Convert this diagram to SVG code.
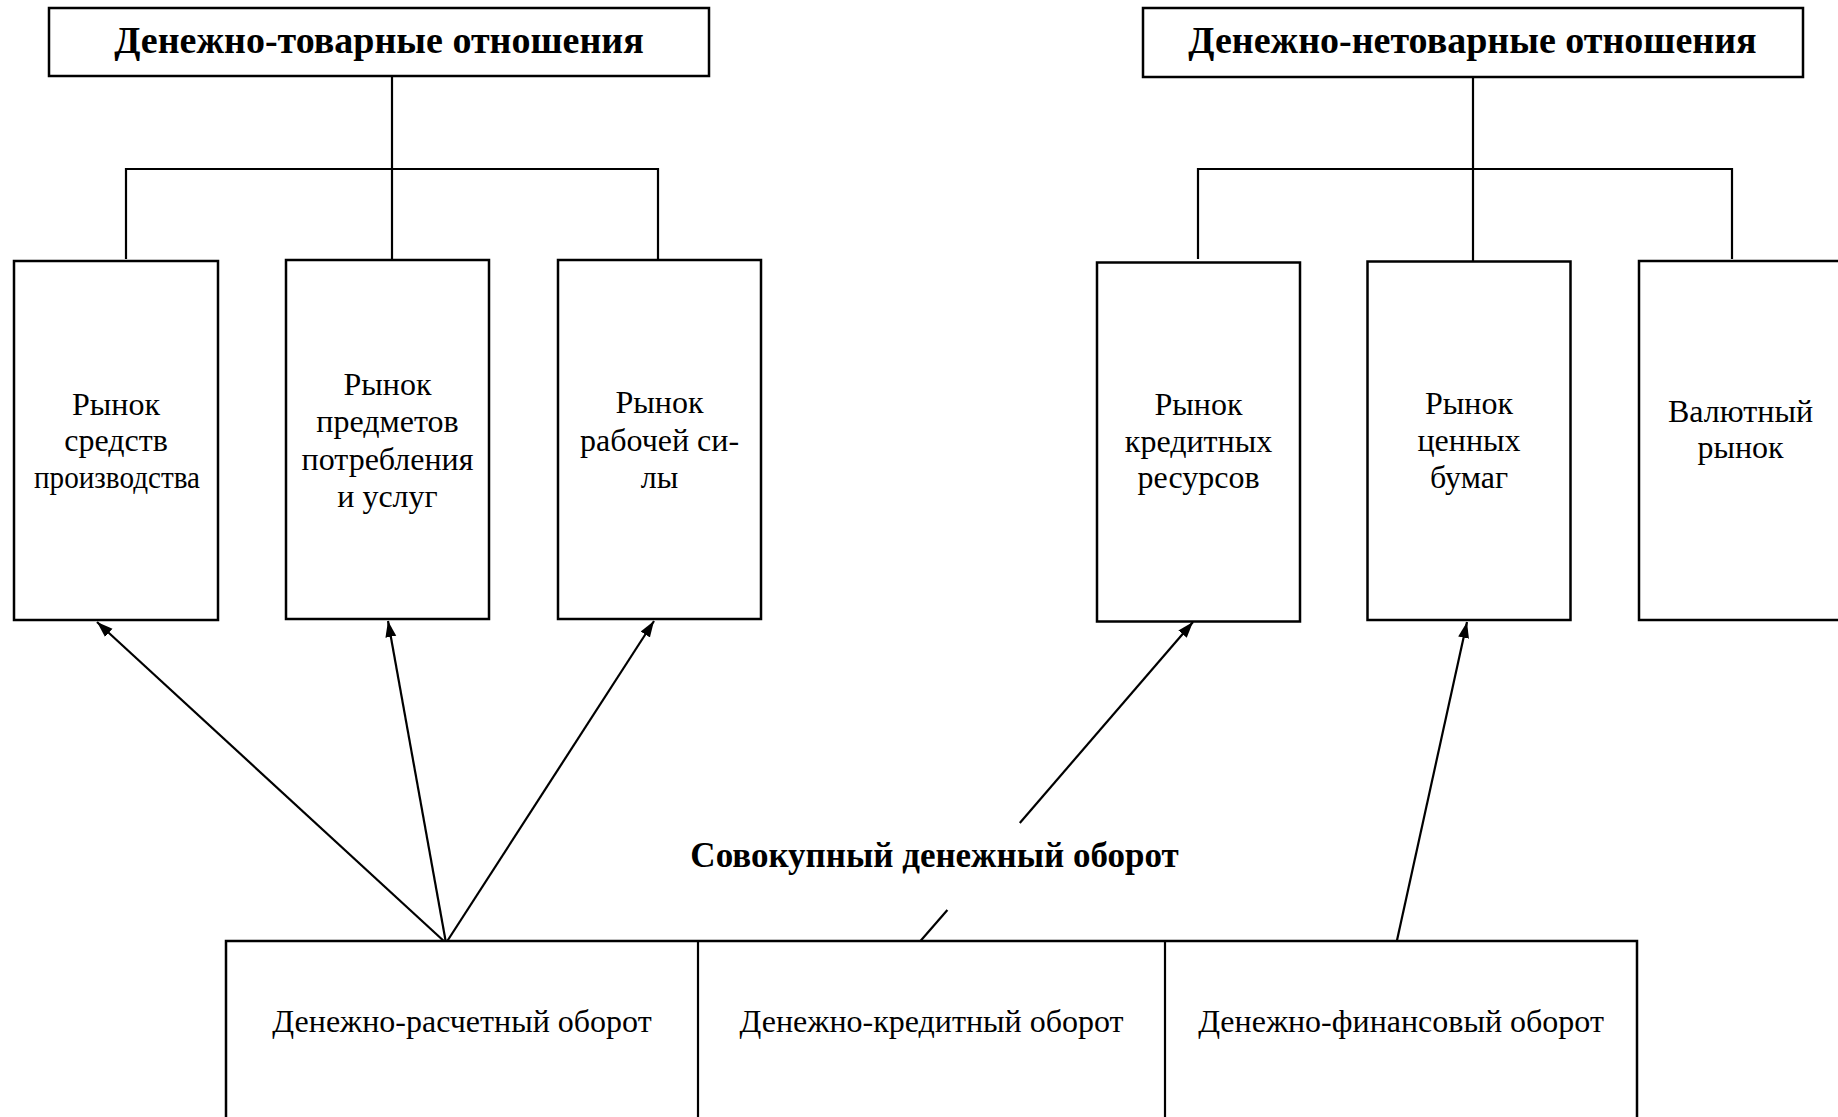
<svg xmlns="http://www.w3.org/2000/svg" width="1838" height="1117" viewBox="0 0 1838 1117">
<style>
.box{fill:#fff;stroke:#000;stroke-width:2.5}
.ln{fill:none;stroke:#000;stroke-width:2.2}
.t{font-family:"Liberation Serif","Times New Roman",serif;font-size:32px;fill:#000;text-anchor:middle}
.tb{font-family:"Liberation Serif","Times New Roman",serif;font-size:38px;font-weight:bold;fill:#000;text-anchor:middle}
.tl{font-family:"Liberation Serif","Times New Roman",serif;font-size:35px;font-weight:bold;fill:#000;text-anchor:middle}
</style>
<defs>
<marker id="ah" markerUnits="userSpaceOnUse" markerWidth="17" markerHeight="12" refX="16" refY="6" orient="auto">
<path d="M0,0.5 L16,6 L0,11.5 z" fill="#000"/>
</marker>
</defs>
<rect width="1838" height="1117" fill="#fff"/>
<g id="connectors">
<polyline class="ln" points="392,77 392,262"/>
<polyline class="ln" points="126,259 126,169 658,169 658,259"/>
<polyline class="ln" points="1473,77 1473,262"/>
<polyline class="ln" points="1198,259 1198,169 1732,169 1732,259"/>
<line class="ln" x1="446" y1="943" x2="97" y2="622" marker-end="url(#ah)"/>
<line class="ln" x1="446" y1="943" x2="388" y2="621" marker-end="url(#ah)"/>
<line class="ln" x1="446" y1="943" x2="654" y2="621" marker-end="url(#ah)"/>
<line class="ln" x1="918.7" y1="943" x2="947.4" y2="910"/>
<line class="ln" x1="1019.8" y1="823" x2="1193" y2="622" marker-end="url(#ah)"/>
<line class="ln" x1="1396.4" y1="943" x2="1467" y2="622" marker-end="url(#ah)"/>
</g>
<g id="node-tovar">
<rect class="box" x="49" y="8" width="660" height="68"/>
<text class="tb" x="379" y="53">Денежно-товарные отношения</text>
</g>
<g id="node-netovar">
<rect class="box" x="1143" y="8" width="660" height="69"/>
<text class="tb" x="1472.5" y="53">Денежно-нетоварные отношения</text>
</g>
<g id="node-sredstv">
<rect class="box" x="14" y="261" width="204" height="359"/>
<text class="t" x="116" y="415">Рынок</text>
<text class="t" x="116" y="451">средств</text>
<text class="t" x="117" y="488" textLength="166" lengthAdjust="spacingAndGlyphs">производства</text>
</g>
<g id="node-predmetov">
<rect class="box" x="286" y="260" width="203" height="359"/>
<text class="t" x="387.5" y="395">Рынок</text>
<text class="t" x="387.5" y="432">предметов</text>
<text class="t" x="387.5" y="470">потребления</text>
<text class="t" x="387.5" y="507">и услуг</text>
</g>
<g id="node-rabochey">
<rect class="box" x="558" y="260" width="203" height="359"/>
<text class="t" x="659.5" y="413">Рынок</text>
<text class="t" x="659.5" y="451">рабочей си-</text>
<text class="t" x="659.5" y="488">лы</text>
</g>
<g id="node-kredit">
<rect class="box" x="1097" y="262.5" width="203" height="359"/>
<text class="t" x="1198.5" y="415">Рынок</text>
<text class="t" x="1198.5" y="452">кредитных</text>
<text class="t" x="1198.5" y="488">ресурсов</text>
</g>
<g id="node-cennyh">
<rect class="box" x="1367.5" y="261.5" width="203" height="358.5"/>
<text class="t" x="1469" y="414">Рынок</text>
<text class="t" x="1469" y="451">ценных</text>
<text class="t" x="1469" y="488">бумаг</text>
</g>
<g id="node-valyut">
<rect class="box" x="1639" y="261" width="203" height="359"/>
<text class="t" x="1740.5" y="422">Валютный</text>
<text class="t" x="1740.5" y="458">рынок</text>
</g>
<g id="label-sovokupny">
<text class="tl" x="934.5" y="867">Совокупный денежный оборот</text>
</g>
<g id="node-oborot">
<rect class="box" x="226" y="941" width="1411" height="200"/>
<line class="ln" x1="698" y1="941" x2="698" y2="1117"/>
<line class="ln" x1="1165" y1="941" x2="1165" y2="1117"/>
<text class="t" x="462" y="1032">Денежно-расчетный оборот</text>
<text class="t" x="931.5" y="1032">Денежно-кредитный оборот</text>
<text class="t" x="1401" y="1032">Денежно-финансовый оборот</text>
</g>
</svg>
